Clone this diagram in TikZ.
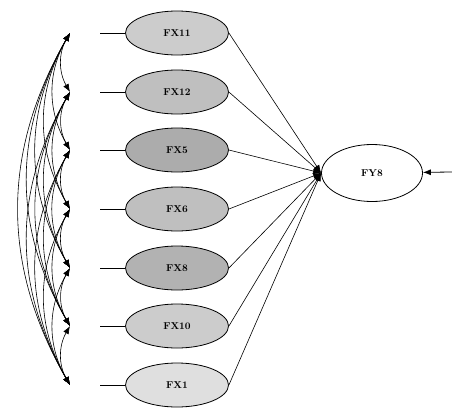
\documentclass[tikz,border=0pt]{standalone}
\usepackage{amsmath}
\usepackage{tikz}
\usetikzlibrary{shapes.geometric,arrows.meta}

\begin{document}
\begin{tikzpicture}[x=1pt,y=-1pt,>={Latex[length=8pt,width=6pt]},
        fxnode/.style={draw,thick,ellipse,minimum width=103pt,minimum height=44pt,inner sep=0pt,font=\bfseries},
        fynode/.style={draw,thick,ellipse,minimum width=101pt,minimum height=57pt,inner sep=0pt,font=\bfseries}]
        \useasboundingbox (0,0) rectangle (452,415);
        \node[fynode] (fy) at (372,173) {FY8};
        \coordinate (err) at (452,172);
        \draw[->,thick] (err) -- (fy);
        \foreach \i/\y/\lab/\g in {1/33/FX11/40,2/92/FX12/50,3/150/FX5/65,4/209/FX6/50,5/268/FX8/60,6/326/FX10/40,7/385/FX1/25} {
            \node[fxnode,fill=gray!\g] (fx\i) at (177,\y) {\lab};
            \coordinate (s\i) at (100,\y);
            \coordinate (c\i) at (70,\y);
            \draw[thick] (s\i) -- (fx\i);
            \draw[->,semithick] (fx\i.east) -- (fy.west);
        }
        \foreach \i in {1,...,6} {
            \pgfmathtruncatemacro{\k}{\i+1}
            \foreach \j in {\k,...,7}
                \draw[<->,semithick] (c\i) to[bend right=30] (c\j);
        }
    \end{tikzpicture}
\end{document}
